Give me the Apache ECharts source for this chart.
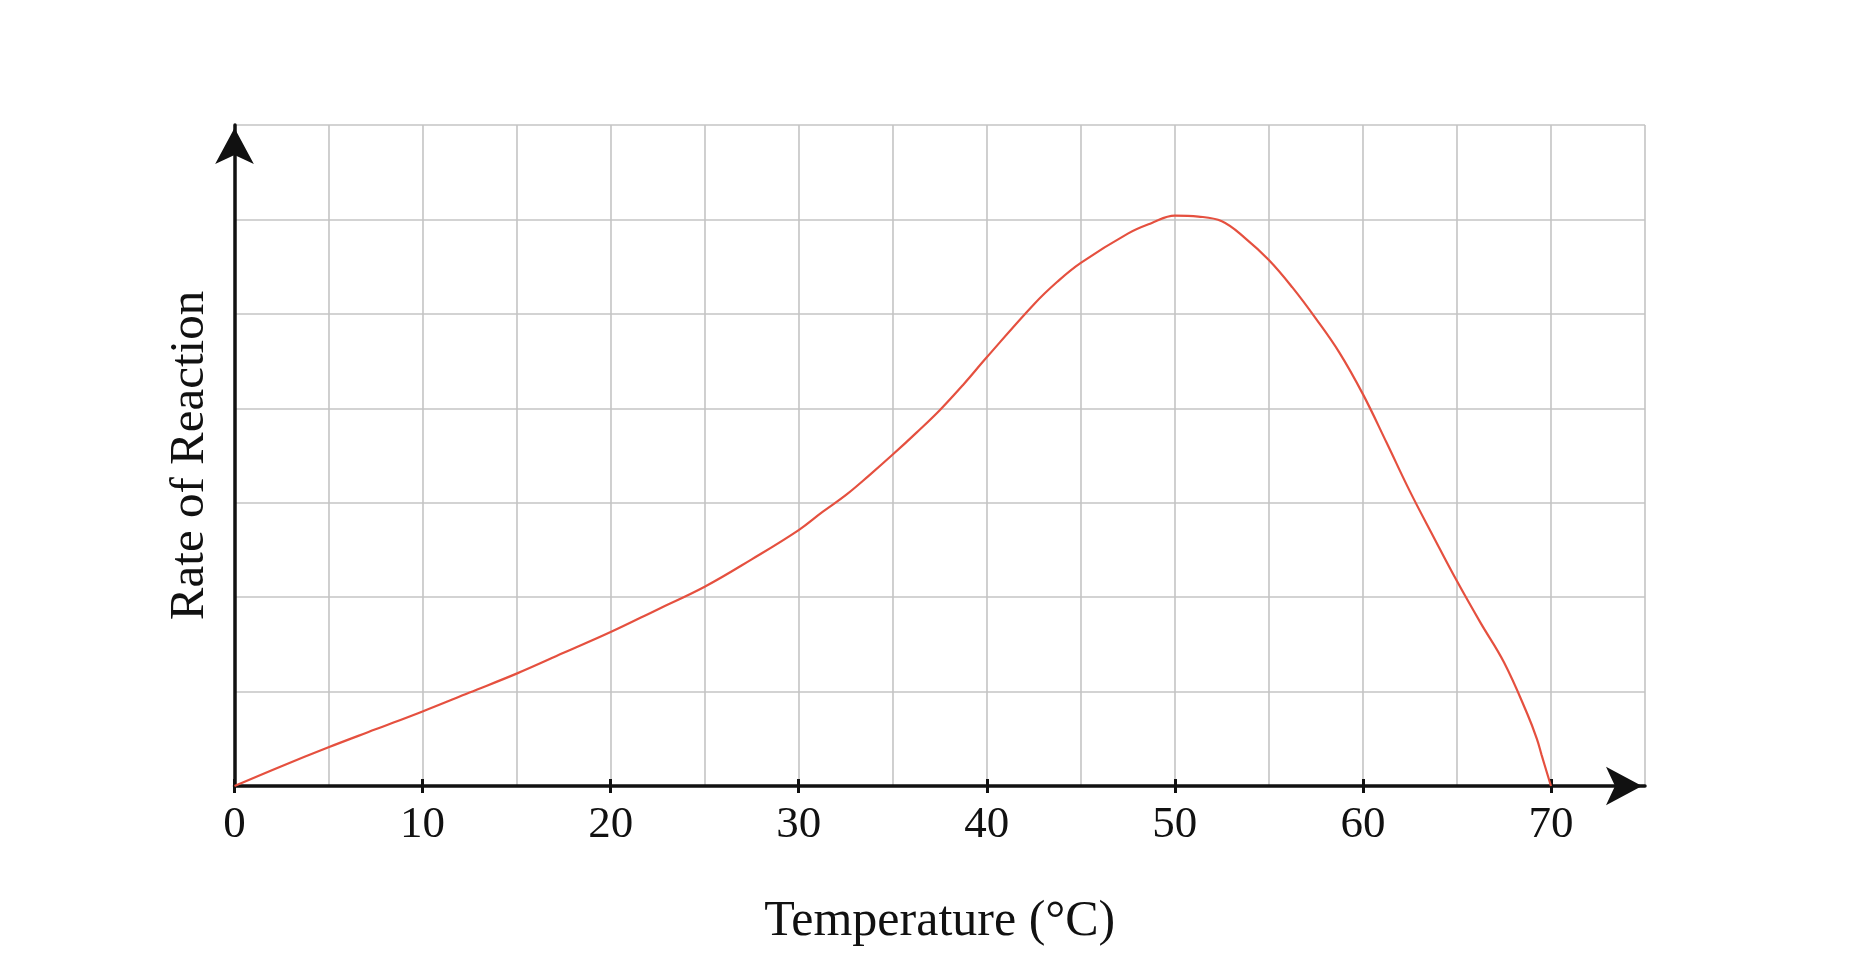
<!DOCTYPE html>
<html>
<head>
<meta charset="utf-8">
<script src="https://cdn.jsdelivr.net/npm/echarts@6/dist/echarts.min.js"></script>
<style>
html,body{margin:0;padding:0;background:#fff;}
#chart{width:1860px;height:968px;}
</style>
</head>
<body>
<div id="chart"></div>
<script>
// Data
var temperatures = [0, 2.5, 5, 7.5, 10, 12.5, 15, 17.5, 20, 22.5, 25, 27.5, 30, 31.25, 32.5, 33.75, 35, 36.25, 37.5, 38.75, 40, 42.5, 43.75, 45, 47.5, 48.75, 50, 51.25, 52.5, 53.75, 55, 56.25, 57.5, 58.75, 60, 61.25, 62.5, 63.75, 65, 66.25, 67.5, 68.75, 69.25, 69.5, 70];
var rates = [0, 0.21, 0.41, 0.60, 0.79, 0.99, 1.19, 1.41, 1.63, 1.87, 2.11, 2.40, 2.71, 2.90, 3.08, 3.29, 3.51, 3.74, 3.98, 4.25, 4.54, 5.10, 5.34, 5.54, 5.85, 5.96, 6.04, 6.03, 5.98, 5.80, 5.57, 5.28, 4.95, 4.59, 4.15, 3.64, 3.12, 2.64, 2.17, 1.73, 1.31, 0.76, 0.50, 0.33, 0];
var xTickLabels = [0, 10, 20, 30, 40, 50, 60, 70];
var xAxisName = 'Temperature (°C)';
var yAxisName = 'Rate of Reaction';

var points = temperatures.map(function (t, i) { return [t, rates[i]]; });

var chart = echarts.init(document.getElementById('chart'), null, {renderer: 'canvas'});
var serif = '"Liberation Serif", "DejaVu Serif", serif';
var gridColor = '#c4c4c4';
chart.setOption({
  animation: false,
  backgroundColor: '#ffffff',
  grid: {left: 234.5, right: 215, top: 125, bottom: 182, containLabel: false},
  xAxis: [{
    // grid lines every 5
    type: 'value', min: 0, max: 75, interval: 5,
    axisLine: {show: false}, axisTick: {show: false}, axisLabel: {show: false},
    splitLine: {show: true, lineStyle: {color: gridColor, width: 1.6}}
  }, {
    // main axis with arrow, outside ticks, labels and name
    type: 'value', min: 0, max: 75, interval: 10, position: 'bottom',
    name: xAxisName, nameLocation: 'middle', nameGap: 111,
    nameTextStyle: {fontFamily: serif, fontSize: 50, color: '#111'},
    axisLine: {show: true, onZero: false, lineStyle: {color: '#111', width: 3.5},
      symbol: ['none', 'arrow'], symbolSize: [29, 36], symbolOffset: [0, -3]},
    axisTick: {show: true, length: 7, customValues: xTickLabels, lineStyle: {color: '#111', width: 3}},
    axisLabel: {show: true, customValues: xTickLabels, margin: 17, fontFamily: serif, fontSize: 45, color: '#111'},
    splitLine: {show: false}
  }, {
    // inside half of the tick marks
    type: 'value', min: 0, max: 75, interval: 10, position: 'bottom',
    axisLine: {show: false, onZero: false},
    axisTick: {show: true, inside: true, length: 7, customValues: xTickLabels, lineStyle: {color: '#111', width: 3}},
    axisLabel: {show: false},
    splitLine: {show: false}
  }],
  yAxis: {
    type: 'value', min: 0, max: 7, interval: 1,
    name: yAxisName, nameLocation: 'middle', nameGap: 20, nameRotate: 90,
    nameTextStyle: {fontFamily: serif, fontSize: 49, color: '#111'},
    axisLine: {show: true, onZero: false, lineStyle: {color: '#111', width: 3.5},
      symbol: ['none', 'arrow'], symbolSize: [29, 36], symbolOffset: [0, -3]},
    axisTick: {show: false},
    axisLabel: {show: false},
    splitLine: {show: true, lineStyle: {color: gridColor, width: 1.6}}
  },
  series: [{
    type: 'line',
    xAxisIndex: 1,
    data: points,
    smooth: 0.4,
    showSymbol: false,
    lineStyle: {color: '#e5503f', width: 2.2},
    z: 1
  }]
});
</script>
</body>
</html>
